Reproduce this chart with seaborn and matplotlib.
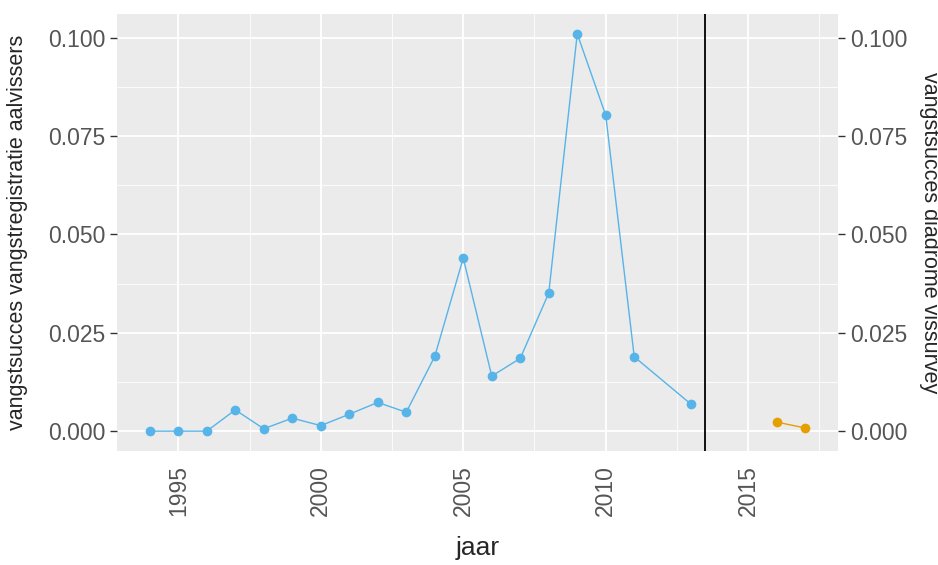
import numpy as np
import pandas as pd
import matplotlib
matplotlib.use("Agg")
import matplotlib.pyplot as plt
import seaborn as sns
from matplotlib.ticker import MultipleLocator, FormatStrFormatter

# --- data ---
jaar_aal = [1994, 1995, 1996, 1997, 1998, 1999, 2000, 2001, 2002, 2003,
            2004, 2005, 2006, 2007, 2008, 2009, 2010, 2011, 2013]
succes_aal = [0.0000, 0.0000, 0.0000, 0.0054, 0.0006, 0.0033, 0.0014, 0.0043, 0.0073, 0.0048,
              0.0190, 0.0440, 0.0140, 0.0185, 0.0351, 0.1010, 0.0803, 0.0189, 0.0068]
jaar_survey = [2016, 2017]
succes_survey = [0.0023, 0.0008]
scheiding = 2013.5

x_ticks = [1995, 2000, 2005, 2010, 2015]
y_ticks = [0.000, 0.025, 0.050, 0.075, 0.100]

df_aal = pd.DataFrame({"jaar": jaar_aal, "succes": succes_aal})
df_survey = pd.DataFrame({"jaar": jaar_survey, "succes": succes_survey})

sns.set_theme(style="darkgrid")
plt.rcParams["font.family"] = ["Liberation Sans", "DejaVu Sans"]

fig = plt.figure(figsize=(9.38, 5.65), dpi=100)
ax = fig.add_axes([117 / 938, 1 - 451 / 565, (838 - 117) / 938, (451 - 14) / 565])
ax.set_facecolor("#EBEBEB")

blue = "#56B4E9"
orange = "#E69F00"
sns.lineplot(data=df_aal, x="jaar", y="succes", ax=ax, color=blue, marker="o",
             markersize=7, markeredgewidth=0, linewidth=1.0, zorder=3)
sns.lineplot(data=df_survey, x="jaar", y="succes", ax=ax, color=orange, marker="o",
             markersize=7, markeredgewidth=0, linewidth=1.0, zorder=3)
ax.axvline(scheiding, color="black", linewidth=1.3, zorder=4)

# ggplot-like expansion (5%)
xmin, xmax = min(jaar_aal), max(jaar_survey)
dx = (xmax - xmin) * 0.05
ax.set_xlim(xmin - dx, xmax + dx)
ymax = max(succes_aal)
dy = ymax * 0.05
ax.set_ylim(-dy, ymax + dy)

ax.set_xticks(x_ticks)
ax.set_yticks(y_ticks)
ax.xaxis.set_minor_locator(MultipleLocator(2.5))
ax.yaxis.set_minor_locator(MultipleLocator(0.0125))
ax.yaxis.set_major_formatter(FormatStrFormatter("%.3f"))
ax.grid(which="major", color="white", linewidth=1.3)
ax.grid(which="minor", color="white", linewidth=0.6)
for s in ax.spines.values():
    s.set_visible(False)

tick_kw = dict(color="#333333", length=5, width=1.0, labelcolor="#555555", labelsize=16.5)
ax.tick_params(axis="y", which="major", pad=3.5, **tick_kw)
ax.tick_params(axis="x", which="major", pad=5, **tick_kw)
ax.tick_params(axis="both", which="minor", length=0)
ax.tick_params(axis="x", labelrotation=90)

ax.set_xlabel("jaar", fontsize=19, va="center")
ax.xaxis.set_label_coords(0.5, -(548 - 451) / 437)
ax.set_ylabel("vangstsucces vangstregistratie aalvissers", fontsize=15.5, va="center")
ax.yaxis.set_label_coords((18 - 117) / 721, 0.5)

# right axis mirrors the left one
ax2 = ax.twinx()
ax2.set_ylim(ax.get_ylim())
ax2.set_yticks(y_ticks)
ax2.yaxis.set_major_formatter(FormatStrFormatter("%.3f"))
ax2.grid(False)
for s in ax2.spines.values():
    s.set_visible(False)
ax2.tick_params(axis="y", which="major", pad=3.5, **tick_kw)
ax2.set_ylabel("vangstsucces diadrome vissurvey", fontsize=15.5, rotation=-90, va="center")
ax2.yaxis.set_label_coords((929 - 117) / 721, 0.5)

fig.savefig("out.png", dpi=100)
